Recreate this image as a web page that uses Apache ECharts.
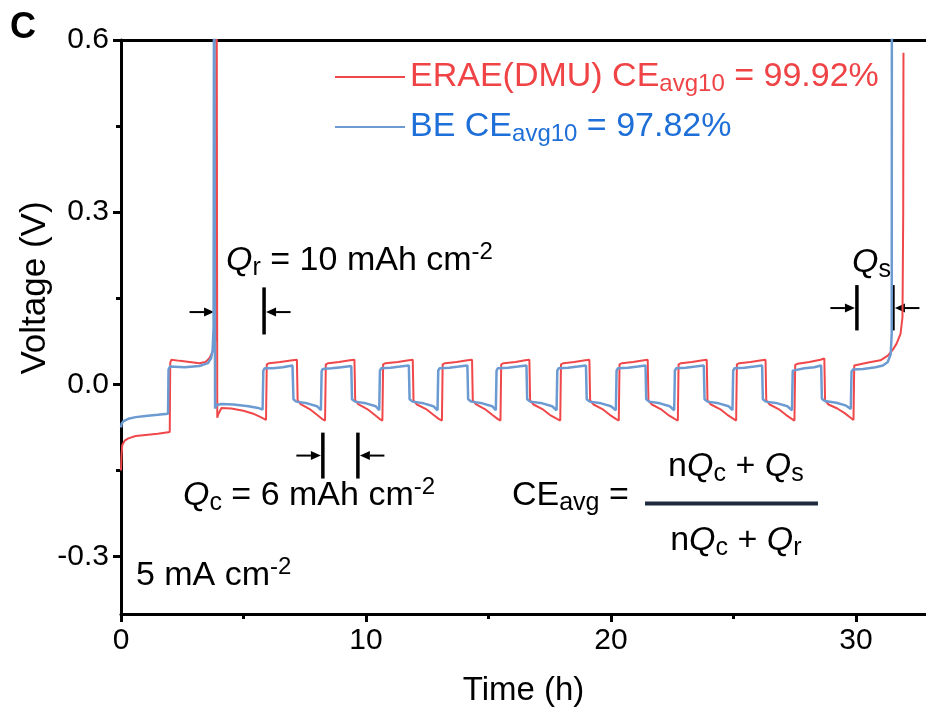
<!DOCTYPE html>
<html><head><meta charset="utf-8">
<script src="https://cdn.jsdelivr.net/npm/echarts@6/dist/echarts.min.js"></script>
<style>html,body{margin:0;padding:0;background:#fff}#c{width:926px;height:713px}</style>
</head><body><div id="c"></div>
<script>
const FF = '"Liberation Sans", Arial, Helvetica, sans-serif';
const RED = '#f0474a', BLUE = '#6c9bd2', RED_TXT = '#ef4346', BLUE_TXT = '#1f6fd8';

const xTickValues = [0, 10, 20, 30];
const xMinorTicks = [5, 15, 25];
const yTickValues = [-0.3, 0, 0.3, 0.6];
const yMinorTicks = [-0.15, 0.15, 0.45];
const seriesNames = ['ERAE(DMU)', 'BE'];
const ceAvg10 = ['99.92%', '97.82%'];

// [time (h), voltage (V)]
const redData = [
 [0.0,-0.15],[0.02,-0.125],[0.05,-0.106],[0.15,-0.098],[0.3,-0.094],[0.6,-0.09],[1.0,-0.088],[1.5,-0.086],[1.99,-0.083],
 [2.01,0.038],[2.06,0.043],[2.4,0.041],[2.8,0.039],[3.2,0.037],[3.45,0.039],[3.6,0.045],[3.75,0.058],[3.84,0.075],[3.88,0.1],[3.9,0.9],[3.92,0.9],[3.93,-0.058],
 [3.97,-0.052],[4.1,-0.041],[4.5,-0.042],[5.0,-0.046],[5.4,-0.051],[5.7,-0.057],[5.92,-0.062],
 [5.95,0.035],[6.0,0.038],[6.05,0.037],[6.5,0.039],[7.0,0.042],[7.18,0.043],[7.21,-0.028],[7.35,-0.035],[7.7,-0.043],[8.0,-0.053],[8.2,-0.06],[8.33,-0.063],
 [8.36,0.035],[8.41,0.038],[8.46,0.037],[8.9,0.039],[9.35,0.042],[9.53,0.043],[9.56,-0.028],[9.7,-0.035],[10.05,-0.043],[10.35,-0.053],[10.55,-0.060],[10.67,-0.063],
 [10.70,0.035],[10.75,0.038],[10.8,0.037],[11.3,0.039],[11.75,0.042],[11.91,0.043],[11.94,-0.028],[12.08,-0.035],[12.45,-0.043],[12.75,-0.053],[12.97,-0.060],[13.10,-0.063],
 [13.13,0.035],[13.18,0.038],[13.23,0.037],[13.7,0.039],[14.15,0.042],[14.33,0.043],[14.36,-0.028],[14.5,-0.035],[14.85,-0.043],[15.15,-0.053],[15.37,-0.060],[15.49,-0.063],
 [15.52,0.035],[15.57,0.038],[15.62,0.037],[16.1,0.039],[16.5,0.042],[16.67,0.043],[16.70,-0.028],[16.84,-0.035],[17.2,-0.043],[17.5,-0.053],[17.8,-0.060],[17.93,-0.063],
 [17.96,0.035],[18.01,0.038],[18.06,0.037],[18.5,0.039],[18.95,0.042],[19.12,0.043],[19.15,-0.028],[19.29,-0.035],[19.65,-0.043],[19.95,-0.053],[20.2,-0.060],[20.32,-0.063],
 [20.35,0.035],[20.4,0.038],[20.45,0.037],[20.9,0.039],[21.35,0.042],[21.5,0.043],[21.53,-0.028],[21.67,-0.035],[22.03,-0.043],[22.33,-0.053],[22.6,-0.060],[22.73,-0.063],
 [22.76,0.035],[22.81,0.038],[22.86,0.037],[23.3,0.039],[23.75,0.042],[23.91,0.043],[23.94,-0.028],[24.08,-0.035],[24.45,-0.043],[24.75,-0.053],[25.0,-0.060],[25.11,-0.063],
 [25.14,0.035],[25.19,0.038],[25.24,0.037],[25.7,0.039],[26.15,0.042],[26.31,0.043],[26.34,-0.028],[26.48,-0.035],[26.84,-0.043],[27.14,-0.053],[27.38,-0.060],[27.49,-0.063],
 [27.52,0.034],[27.57,0.037],[27.62,0.036],[28.1,0.039],[28.55,0.043],[28.71,0.045],[28.74,-0.028],[28.88,-0.035],[29.24,-0.042],[29.54,-0.05],[29.78,-0.058],[29.9,-0.062],
 [29.93,0.033],[29.98,0.036],[30.5,0.038],[31.0,0.042],[31.3,0.050],[31.5,0.060],[31.66,0.071],[31.82,0.088],[31.9,0.117],[31.93,0.3],[31.94,0.578]
];
const blueData = [
 [0.0,-0.075],[0.03,-0.068],[0.1,-0.064],[0.3,-0.060],[0.6,-0.057],[1.0,-0.055],[1.5,-0.053],[1.92,-0.051],
 [1.94,0.026],[2.0,0.031],[2.6,0.030],[3.2,0.032],[3.55,0.037],[3.68,0.046],[3.74,0.06],[3.78,0.1],[3.8,0.9],[3.83,0.9],[3.84,-0.042],
 [3.9,-0.036],[4.1,-0.034],[4.6,-0.035],[5.2,-0.038],[5.6,-0.041],[5.78,-0.044],
 [5.81,0.024],[5.86,0.028],[6.2,0.028],[6.6,0.030],[7.0,0.033],[7.04,-0.026],[7.15,-0.030],[7.6,-0.033],[8.0,-0.038],[8.16,-0.045],
 [8.19,0.023],[8.24,0.027],[8.6,0.028],[9.0,0.030],[9.4,0.032],[9.43,-0.026],[9.55,-0.030],[10.0,-0.033],[10.4,-0.038],[10.54,-0.045],
 [10.57,0.024],[10.62,0.028],[11.0,0.029],[11.4,0.031],[11.75,0.033],[11.78,-0.026],[11.9,-0.030],[12.35,-0.033],[12.75,-0.038],[12.92,-0.045],
 [12.95,0.024],[13.0,0.028],[13.4,0.029],[13.8,0.031],[14.14,0.033],[14.17,-0.026],[14.3,-0.030],[14.75,-0.033],[15.15,-0.038],[15.3,-0.045],
 [15.33,0.024],[15.38,0.028],[15.8,0.029],[16.2,0.031],[16.55,0.033],[16.58,-0.026],[16.7,-0.030],[17.2,-0.033],[17.6,-0.038],[17.78,-0.045],
 [17.81,0.024],[17.86,0.028],[18.25,0.029],[18.65,0.031],[18.98,0.033],[19.01,-0.026],[19.13,-0.030],[19.6,-0.033],[20.0,-0.038],[20.2,-0.045],
 [20.23,0.024],[20.28,0.028],[20.7,0.029],[21.1,0.031],[21.41,0.033],[21.44,-0.026],[21.56,-0.030],[22.0,-0.033],[22.4,-0.038],[22.58,-0.045],
 [22.61,0.024],[22.66,0.028],[23.05,0.029],[23.45,0.031],[23.79,0.033],[23.82,-0.026],[23.94,-0.030],[24.4,-0.033],[24.8,-0.038],[24.96,-0.045],
 [24.99,0.024],[25.04,0.028],[25.45,0.029],[25.85,0.031],[26.17,0.033],[26.2,-0.026],[26.32,-0.030],[26.8,-0.033],[27.2,-0.038],[27.39,-0.045],
 [27.42,0.024],[27.47,0.027],[27.9,0.028],[28.3,0.030],[28.58,0.033],[28.61,-0.025],[28.73,-0.029],[29.2,-0.032],[29.6,-0.037],[29.79,-0.043],
 [29.82,0.022],[29.87,0.026],[30.3,0.027],[30.8,0.030],[31.1,0.033],[31.3,0.039],[31.42,0.053],[31.46,0.088],[31.47,0.9]
];

// annotation anchors in data coordinates [time, voltage]
const qrBracket = {x1: 3.88, x2: 5.84, yTop: 0.169, yBot: 0.087, yArrow: 0.126, arrowLen: 1.0};
const qsBracket = {x1: 30.04, x2: 31.51, yTop: 0.173, yBot: 0.094, yArrow: 0.133, arrowLen: 1.0};
const qcBracket = {x1: 8.24, x2: 9.67, yTop: -0.084, yBot: -0.164, yArrow: -0.124, arrowLen: 1.0};

const chart = echarts.init(document.getElementById('c'), null, {renderer: 'canvas'});

const axisCommon = {
  axisLine: {show: false, onZero: false}, splitLine: {show: false},
  axisLabel: {show: false}, axisTick: {show: false}
};

const option = {
  backgroundColor: '#fff',
  animation: false,
  textStyle: {fontFamily: FF},
  grid: {left: 121, right: 0, top: 40, bottom: 99},
  legend: {
    orient: 'vertical', left: 330, top: 55, itemGap: 14,
    itemWidth: 70, itemHeight: 2, icon: 'rect',
    data: seriesNames,
    formatter: function (name) {
      if (name === seriesNames[0]) return '{r|' + name + ' CE}{rs|avg10}{r| = ' + ceAvg10[0] + '}';
      return '{b|' + name + ' CE}{bs|avg10}{b| = ' + ceAvg10[1] + '}';
    },
    textStyle: {
      fontFamily: FF,
      rich: {
        r: {color: RED_TXT, fontSize: 34, lineHeight: 38, fontFamily: FF},
        rs: {color: RED_TXT, fontSize: 24, lineHeight: 14, verticalAlign: 'bottom', fontFamily: FF},
        b: {color: BLUE_TXT, fontSize: 34, lineHeight: 38, fontFamily: FF},
        bs: {color: BLUE_TXT, fontSize: 24, lineHeight: 14, verticalAlign: 'bottom', fontFamily: FF}
      }
    }
  },
  xAxis: [
    {
      type: 'value', min: 0, max: 32.86,
      axisLine: {show: true, onZero: false, lineStyle: {color: '#000', width: 3}},
      axisTick: {show: true, customValues: xTickValues, length: 8, lineStyle: {color: '#000', width: 3}},
      axisLabel: {show: true, customValues: xTickValues, fontSize: 30, color: '#000', margin: 12, fontFamily: FF},
      splitLine: {show: false},
      name: 'Time (h)', nameLocation: 'middle', nameGap: 60,
      nameTextStyle: {fontSize: 33, color: '#000', fontFamily: FF}
    },
    Object.assign({}, axisCommon, {
      type: 'value', min: 0, max: 32.86, position: 'bottom',
      axisTick: {show: true, customValues: xMinorTicks, length: 5, lineStyle: {color: '#000', width: 3}}
    }),
    Object.assign({}, axisCommon, {
      type: 'value', min: 0, max: 32.86, position: 'top',
      axisLine: {show: true, onZero: false, lineStyle: {color: '#000', width: 3}}
    })
  ],
  yAxis: [
    {
      type: 'value', min: -0.4, max: 0.6,
      axisLine: {show: true, onZero: false, lineStyle: {color: '#000', width: 3}},
      axisTick: {show: true, customValues: yTickValues, length: 8, lineStyle: {color: '#000', width: 3}},
      axisLabel: {show: true, customValues: yTickValues, fontSize: 30, color: '#000', margin: 12, fontFamily: FF,
        formatter: function (v) { return v.toFixed(1); }},
      splitLine: {show: false}
    },
    Object.assign({}, axisCommon, {
      type: 'value', min: -0.4, max: 0.6, position: 'left',
      axisTick: {show: true, customValues: yMinorTicks, length: 5, lineStyle: {color: '#000', width: 3}}
    })
  ],
  series: [
    {name: seriesNames[0], type: 'line', data: redData, showSymbol: false, symbol: 'none',
     color: RED, lineStyle: {color: RED, width: 2}, z: 2, clip: true},
    {name: seriesNames[1], type: 'line', data: blueData, showSymbol: false, symbol: 'none',
     color: BLUE, lineStyle: {color: BLUE, width: 2.5}, z: 3, clip: true}
  ]
};
chart.setOption(option);

function px(t, v) { return chart.convertToPixel({xAxisIndex: 0, yAxisIndex: 0}, [t, v]); }

function arrow(from, to) {
  const dx = to[0] - from[0], dy = to[1] - from[1];
  const L = Math.sqrt(dx * dx + dy * dy), ux = dx / L, uy = dy / L;
  const hl = 10, hw = 4.5;
  const base = [to[0] - ux * hl, to[1] - uy * hl];
  return [
    {type: 'line', shape: {x1: from[0], y1: from[1], x2: base[0], y2: base[1]}, style: {stroke: '#000', lineWidth: 2}},
    {type: 'polygon', shape: {points: [to, [base[0] - uy * hw, base[1] + ux * hw], [base[0] + uy * hw, base[1] - ux * hw]]}, style: {fill: '#000'}}
  ];
}
function bracket(b) {
  const els = [];
  [b.x1, b.x2].forEach(function (x) {
    const p1 = px(x, b.yTop), p2 = px(x, b.yBot);
    els.push({type: 'line', shape: {x1: p1[0], y1: p1[1], x2: p2[0], y2: p2[1]}, style: {stroke: '#000', lineWidth: 3.5}});
  });
  const a1 = px(b.x1, b.yArrow), a2 = px(b.x2, b.yArrow);
  const len = a1[0] - px(b.x1 - b.arrowLen, b.yArrow)[0];
  return els.concat(arrow([a1[0] - len - 2, a1[1]], [a1[0] - 2, a1[1]]), arrow([a2[0] + len + 2, a2[1]], [a2[0] + 2, a2[1]]));
}

const richBase = {
  n: {fontSize: 34, lineHeight: 40, fontFamily: FF, fill: '#000'},
  q: {fontSize: 34, lineHeight: 40, fontFamily: FF, fontStyle: 'italic', fill: '#000'},
  s: {fontSize: 25, lineHeight: 16, verticalAlign: 'bottom', fontFamily: FF, fill: '#000'},
  p: {fontSize: 24, lineHeight: 30, verticalAlign: 'top', fontFamily: FF, fill: '#000'}
};
function rtext(t, v, text, align) {
  const p = px(t, v);
  return {type: 'text', x: p[0], y: p[1], z: 10,
    style: {text: text, rich: richBase, align: align || 'left', verticalAlign: 'middle', fill: '#000', font: '34px ' + FF}};
}

const g = [];
g.push({type: 'text', left: 10, top: 10, style: {text: 'C', font: 'bold 36px ' + FF, fill: '#000'}});
g.push({type: 'text', x: 35, y: 288, rotation: Math.PI / 2,
  style: {text: 'Voltage (V)', font: '35px ' + FF, fill: '#000', align: 'center', verticalAlign: 'middle'}});
Array.prototype.push.apply(g, bracket(qrBracket));
Array.prototype.push.apply(g, bracket(qsBracket));
Array.prototype.push.apply(g, bracket(qcBracket));
g.push(rtext(4.29, 0.216, '{q|Q}{s|r}{n| = 10 mAh cm}{p|-2}'));
g.push(rtext(29.84, 0.213, '{q|Q}{s|s}'));
g.push(rtext(2.53, -0.194, '{q|Q}{s|c}{n| = 6 mAh cm}{p|-2}'));
g.push(rtext(15.96, -0.194, '{n|CE}{s|avg}{n| =}'));
g.push(rtext(25.1, -0.143, '{n|n}{q|Q}{s|c}{n| + }{q|Q}{s|s}', 'center'));
g.push(rtext(25.1, -0.272, '{n|n}{q|Q}{s|c}{n| + }{q|Q}{s|r}', 'center'));
g.push(rtext(0.61, -0.333, '{n|5 mA cm}{p|-2}'));
(function () {
  const a = px(21.39, -0.2075), b = px(28.45, -0.2075);
  g.push({type: 'rect', shape: {x: a[0], y: a[1] - 2, width: b[0] - a[0], height: 4}, style: {fill: '#1d2b3c'}});
})();
chart.setOption({graphic: g});
</script>
</body></html>
